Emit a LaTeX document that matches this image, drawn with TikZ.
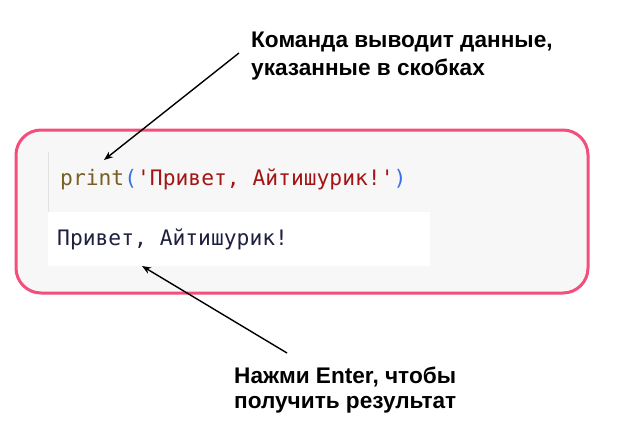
\documentclass[tikz,border=0pt]{standalone}
\usepackage{fontspec}
\setmainfont{Liberation Sans}
\newfontfamily\codefont{DejaVu Sans Mono}
\usetikzlibrary{arrows.meta}
\definecolor{pinkborder}{HTML}{F24F7D}
\definecolor{cellbg}{HTML}{F7F7F7}
\definecolor{cellline}{HTML}{E2E2E2}
\definecolor{kwfunc}{HTML}{795E26}
\definecolor{kwparen}{HTML}{3B6FE8}
\definecolor{kwstr}{HTML}{A31515}
\definecolor{outtext}{HTML}{1F2040}
\tikzset{
  note/.style={font=\fontsize{22.6}{26}\selectfont\bfseries, anchor=base west, inner sep=0pt, text=black},
  code/.style={font=\fontsize{21.3}{25}\selectfont\codefont, anchor=base west, inner sep=0pt},
  pointer/.style={draw=black, line width=1.4pt, -{Stealth[length=9pt,width=7pt]}}
}
\begin{document}
\begin{tikzpicture}[x=1pt,y=-1pt]
\useasboundingbox (0,0) rectangle (626,428);
% container
\node (box) [draw=pinkborder, line width=3pt, fill=cellbg, rounded corners=25pt,
  minimum width=572pt, minimum height=163pt, inner sep=0pt, anchor=north west] at (14.5,128.5) {};
% output area
\node (outbox) [fill=white, minimum width=382pt, minimum height=54pt, inner sep=0pt, anchor=north west] at (48,212) {};
\draw[cellline, line width=1pt] (48.5,152) -- (48.5,212);
% code
\node (codeline) [code] at (60,185) {\textcolor{kwfunc}{print}\textcolor{kwparen}{(}\textcolor{kwstr}{'Привет, Айтишурик!'}\textcolor{kwparen}{)}};
\node (outline) [code, text=outtext] at (57,245) {Привет, Айтишурик!};
% notes
\node (note1a) [note] at (251,48) {Команда выводит данные,};
\node (note1b) [note] at (251,75) {указанные в скобках};
\node (note2a) [note] at (234,383) {Нажми Enter, чтобы};
\node (note2b) [note] at (234,408) {получить результат};
% connectors
\coordinate (t1) at (239,53);
\coordinate (h1) at (104,160);
\coordinate (t2) at (287,353);
\coordinate (h2) at (142,266);
\draw[pointer] (t1) -- (h1);
\draw[pointer] (t2) -- (h2);
\end{tikzpicture}
\end{document}
